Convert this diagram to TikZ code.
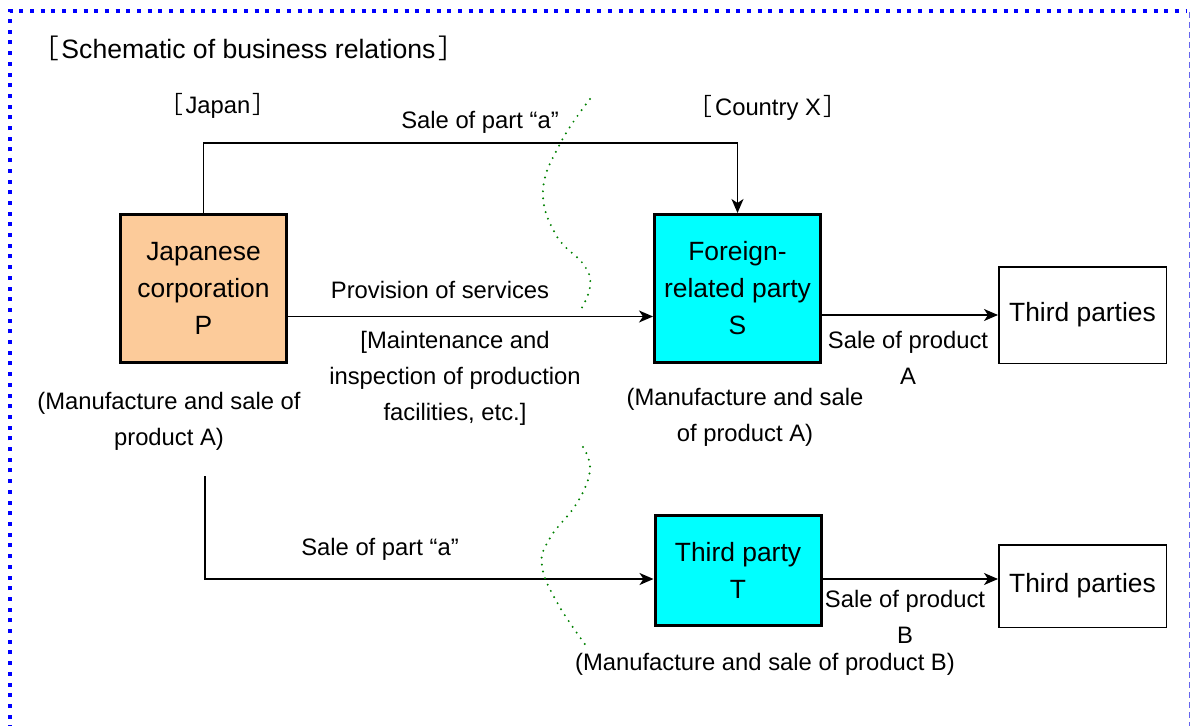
\documentclass[tikz,border=0pt]{standalone}
\usepackage{fontspec}
\setmainfont{Liberation Sans}
\newfontfamily\cjk{Noto Sans CJK JP}
\usetikzlibrary{arrows.meta,calc}
\definecolor{bordblue}{HTML}{0000FF}
\definecolor{bordlight}{HTML}{6666EE}
\definecolor{orangefill}{HTML}{FCCB9A}
\definecolor{cyanfill}{HTML}{00FFFF}
\definecolor{wavegreen}{HTML}{008000}
\newcommand{\lb}{{\cjk ［}\hspace{0.1em}}
\newcommand{\rb}{\hspace{0.1em}{\cjk ］}}
\tikzset{
  mainbox/.style={draw=black, line width=3bp, minimum width=166bp, inner sep=0pt, align=center,
    font=\fontsize{26.4bp}{37bp}\selectfont},
  thirdbox/.style={draw=black, line width=1.5bp, minimum width=167.5bp, inner sep=0pt, align=center,
    font=\fontsize{26.4bp}{37bp}\selectfont},
  lbl/.style={inner sep=0pt, align=center, font=\fontsize{23.8bp}{36bp}\selectfont},
  arr/.style={draw=black, line width=1.5bp, -{Stealth[length=14bp,width=12bp,inset=4bp]}},
  wave/.style={draw=wavegreen, line width=2.2bp, line cap=round, dash pattern=on 0bp off 7bp},
}
\begin{document}
\begin{tikzpicture}[x=1bp,y=-1bp]
\useasboundingbox (0,0) rectangle (1190,726);
% frame
\draw[bordblue, line width=4bp, dash pattern=on 4bp off 6.7bp] (10,740) -- (10,11) -- (1186,11);
\draw[bordlight, line width=1.2bp, dash pattern=on 6bp off 4bp] (1189.5,12) -- (1189.5,740);

% title
\node[inner sep=0pt, anchor=west, font=\fontsize{26.6bp}{36bp}\selectfont] (title) at (32,48) {\lb Schematic of business relations\rb};
\node[lbl] (japan) at (218,106) {\lb Japan\rb};
\node[lbl] (countryx) at (768,108) {\lb Country X\rb};

% boxes
\node[mainbox, fill=orangefill, minimum height=148bp] (P) at (203.5,288.5) {Japanese\\corporation\\P};
\node[mainbox, fill=cyanfill, minimum height=148bp] (S) at (737.5,288.5) {Foreign-\\related party\\S};
\node[thirdbox, minimum height=96.5bp] (TP1) at (1082.5,315) {Third parties};
\node[mainbox, fill=cyanfill, minimum height=110bp] (T) at (738,570.5) {Third party\\T};
\node[thirdbox, minimum height=82.5bp] (TP2) at (1082.5,586) {Third parties};

% coordinates
\coordinate (toprow) at (0,143);
\coordinate (Pb) at (205,476);

% connectors
\draw[arr] (P.north) -- (P.north |- toprow) -| (S.north);
\draw[arr] ($(P.east)+(0,28)$) -- ($(S.west)+(0,28)$);
\draw[arr] (S.east |- TP1.west) -- (TP1.west);
\draw[arr] (Pb) |- ($(T.west)+(0,8.5)$);
\draw[arr] ($(T.east)+(0,8.5)$) -- (TP2.west |- {$(T.east)+(0,8.5)$});

% labels
\node[lbl] (salea1) at (480,122) {Sale of part “a”};
\node[lbl] (prov) at (440,290) {Provision of services};
\node[lbl] (maint) at (455,378) {[Maintenance and\\inspection of production\\facilities, etc.]};
\node[lbl] (mfgP) at (169,421) {(Manufacture and sale of\\product A)};
\node[lbl] (mfgS) at (745,417) {(Manufacture and sale\\of product A)};
\node[lbl] (saleA) at (908,358) {Sale of product\\A};
\node[lbl] (salea2) at (380,549) {Sale of part “a”};
\node[lbl] (saleB) at (905,617) {Sale of product\\B};
\node[lbl] (mfgT) at (765,664) {(Manufacture and sale of product B)};

% border waves
\draw[wave] plot[smooth, tension=0.7] coordinates {(590,99) (561,142) (543,190) (556,235) (584,265) (590,287) (580,311)};
\draw[wave] plot[smooth, tension=0.7] coordinates {(583,447) (590,470) (577,503) (550,538) (542,566) (558,604) (587,647)};
\end{tikzpicture}
\end{document}
